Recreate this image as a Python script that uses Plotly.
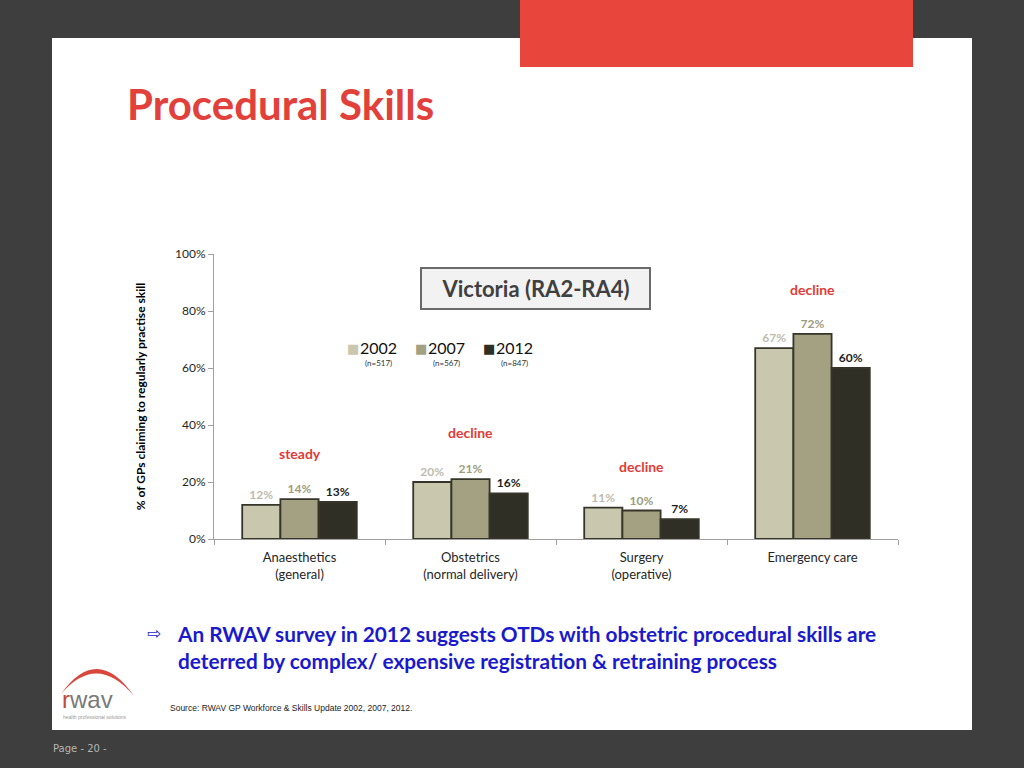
import plotly.graph_objects as go

W, H = 1024, 768

categories = ["Anaesthetics<br>(general)", "Obstetrics<br>(normal delivery)",
              "Surgery<br>(operative)", "Emergency care"]
years = ["2002", "2007", "2012"]
sample_sizes = ["(n=517)", "(n=567)", "(n=847)"]
values_2002 = [12, 20, 11, 67]
values_2007 = [14, 21, 10, 72]
values_2012 = [13, 16, 7, 60]
trend_labels = ["steady", "decline", "decline", "decline"]
trend_label_y = [30, 37.5, 25.3, 87.7]
y_ticks = [0, 20, 40, 60, 80, 100]

bar_colors = ["#c9c8ae", "#a3a181", "#2f2f25"]
label_colors = ["#bdbcaf", "#9d9c80", "#1e1e1e"]
series = [values_2002, values_2007, values_2012]

FONT = "Lato"


def px(x):
    return x / W


def py(y):
    return 1 - y / H


def note(x, y, text, size, color, family=FONT, bold=False, xanchor="left", **kw):
    f = dict(family=family, size=size, color=color)
    if bold:
        f["weight"] = "bold"
    d = dict(x=px(x), y=py(y), xref="paper", yref="paper", xanchor=xanchor,
             yanchor="middle", text=text, showarrow=False, font=f)
    d.update(kw)
    return d


fig = go.Figure()
for name, vals, col, lcol in zip(years, series, bar_colors, label_colors):
    fig.add_trace(go.Bar(
        name=name, x=categories, y=vals,
        marker=dict(color=col, line=dict(color="#36352a", width=1.8)),
        text=[f"{v}%" for v in vals], textposition="outside",
        textfont=dict(family=FONT, size=12, color=lcol, weight="bold"),
        cliponaxis=False, showlegend=False,
    ))

annotations = []
for cat, lab, ly in zip(categories, trend_labels, trend_label_y):
    annotations.append(dict(x=cat, y=ly, xref="x", yref="y", text=lab, showarrow=False,
                            yanchor="middle",
                            font=dict(family=FONT, size=14, color="#e23b36", weight="bold")))

# Chart header box
annotations.append(note(535, 289, "Victoria (RA2-RA4)", 22, "#404040", bold=True,
                        xanchor="center", bordercolor="#6a6a6a", borderwidth=2,
                        borderpad=6, width=215, bgcolor="#f2f2f2"))

# legend built from the series names / colours
for i, (yr, col, n) in enumerate(zip(years, bar_colors, sample_sizes)):
    x0 = 345 + 68 * i
    annotations.append(note(x0, 348, f"<span style='color:{col}'>■</span>", 13, col,
                            family="DejaVu Sans"))
    annotations.append(note(x0 + 13, 347, yr, 16, "#111111"))
    annotations.append(note(x0 + 33, 363, n, 8, "#333333", xanchor="center"))

# Title
annotations.append(note(125, 104, "Procedural Skills", 42, "#e2403a", bold=True))

# Bottom message
annotations.append(note(145, 633, "⇨", 17, "#1a1acc", family="DejaVu Sans"))
annotations.append(note(175, 647,
                        "An RWAV survey in 2012 suggests OTDs with obstetric procedural skills are<br>"
                        "deterred by complex/ expensive registration &amp; retraining process",
                        20.8, "#1a1acc", bold=True, align="left"))

annotations.append(note(168, 708, "Source: RWAV GP Workforce &amp; Skills Update 2002, 2007, 2012.",
                        8.5, "#222222", family="Liberation Sans"))

# logo text
annotations.append(note(60, 699, "<span style='color:#c04a3a'>r</span>wav", 24, "#7a7a7a",
                        family="Liberation Sans"))
annotations.append(note(61, 717, "health professional solutions", 5, "#999999",
                        family="Liberation Sans"))

annotations.append(note(51, 748, "Page - 20 -", 10, "#b5b5b5", family="DejaVu Sans"))

shapes = [
    dict(type="rect", xref="paper", yref="paper", x0=px(52), x1=px(972), y0=py(730), y1=py(38),
         fillcolor="white", line=dict(width=0), layer="below"),
    dict(type="rect", xref="paper", yref="paper", x0=px(520), x1=px(913), y0=py(67), y1=py(0),
         fillcolor="#e8463c", line=dict(width=0), layer="below"),
]
arc = (f"M {px(61)},{py(694)} Q {px(97)},{py(643)} {px(134)},{py(696)} "
       f"Q {px(97)},{py(652)} {px(61)},{py(694)} Z")
shapes.append(dict(type="path", xref="paper", yref="paper", path=arc,
                   fillcolor="#d9463b", line=dict(width=0)))

fig.update_layout(
    width=W, height=H,
    margin=dict(l=0, r=0, t=0, b=0, pad=0, autoexpand=False),
    paper_bgcolor="#3e3e3e",
    plot_bgcolor="#f2f2f2",
    barmode="group", bargap=0.33, bargroupgap=0,
    font=dict(family=FONT, size=12, color="#262626"),
    showlegend=False,
    xaxis=dict(domain=[px(214), px(898)], type="category", tickson="boundaries",
               ticks="outside", ticklen=5, tickcolor="#a0a0a0", showline=True,
               linecolor="#a0a0a0", linewidth=1, showgrid=False, automargin=False,
               ticklabelstandoff=6,
               tickfont=dict(family=FONT, size=13, color="#262626")),
    yaxis=dict(domain=[py(539), py(254)], range=[0, 100], tickvals=y_ticks,
               ticktext=[f"{t}%" for t in y_ticks], ticks="outside", ticklen=5,
               tickcolor="#a0a0a0", showline=True, linecolor="#a0a0a0", showgrid=False,
               zeroline=False, automargin=False,
               tickfont=dict(family=FONT, size=12, color="#262626"),
               title=dict(text="% of GPs claiming to regularly practise skill", standoff=26,
                          font=dict(family=FONT, size=12, color="#000000", weight="bold"))),
    annotations=annotations,
    shapes=shapes,
)

fig.write_html("out.html", config={"displayModeBar": False},
               post_script="document.body.style.margin='0';document.body.style.overflow='hidden';")
